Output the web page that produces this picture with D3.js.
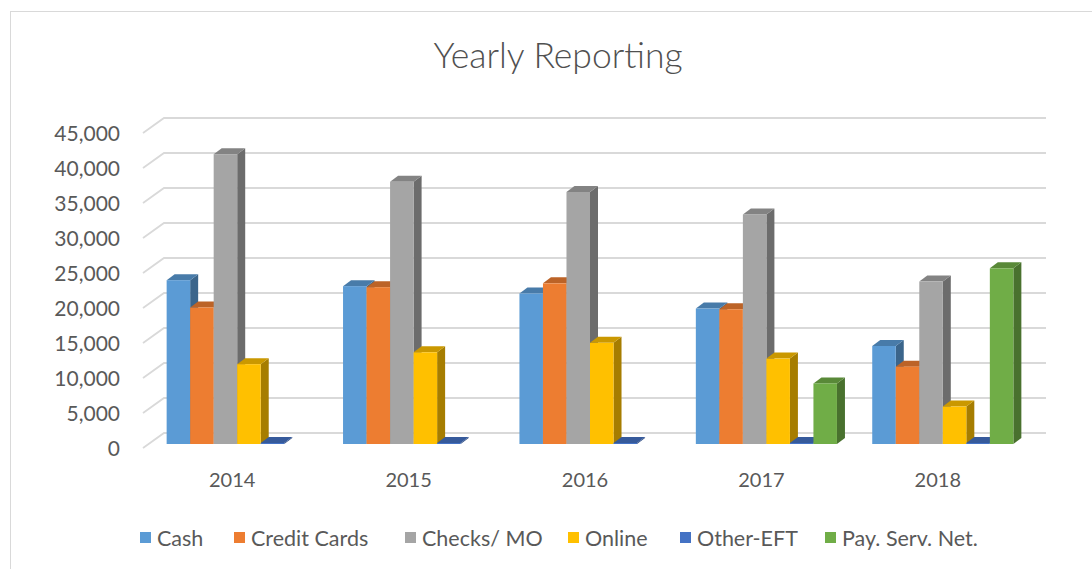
<!DOCTYPE html>
<html>
<head>
<meta charset="utf-8">
<script src="https://cdn.jsdelivr.net/npm/d3@7"></script>
<style>
  html, body { margin: 0; padding: 0; background: #fff; }
  svg { display: block; }
  text { font-family: Lato, "Open Sans", sans-serif; fill: #595959; }
</style>
</head>
<body>
<svg id="chart" width="1092" height="569"></svg>
<script>
// Yearly payment volumes by channel
const years = ["2014", "2015", "2016", "2017", "2018"];
const seriesNames = ["Cash", "Credit Cards", "Checks/ MO", "Online", "Other-EFT", "Pay. Serv. Net."];
const seriesColors = ["#5B9BD5", "#ED7D31", "#A5A5A5", "#FFC000", "#4472C4", "#70AD47"];

const cash        = [23400, 22550, 21500, 19350, 14000];
const creditCards = [19500, 22400, 22950, 19250, 11050];
const checksMO    = [41400, 37450, 36000, 32800, 23200];
const online      = [11400, 13100, 14450, 12200, 5350];
const otherEFT    = [0, 0, 0, 0, 0];
const payServNet  = [null, null, null, 8650, 25100];

const yTicks = [0, 5000, 10000, 15000, 20000, 25000, 30000, 35000, 40000, 45000];

const seriesValues = [cash, creditCards, checksMO, online, otherEFT, payServNet];

const svg = d3.select("#chart");

// chart area frame
svg.append("rect")
  .attr("x", 10.5).attr("y", 11.5)
  .attr("width", 1100).attr("height", 600)
  .attr("fill", "#fff")
  .attr("stroke", "#D9D9D9").attr("stroke-width", 1);

// title
svg.append("text")
  .attr("x", 558).attr("y", 68)
  .attr("text-anchor", "middle")
  .attr("font-size", 35.5)
  .attr("font-weight", 300)
  .style("fill", "#505050")
  .text("Yearly Reporting");

// scales
const x0 = d3.scaleBand().domain(years).range([149, 1031]).paddingInner(0.2).paddingOuter(0.1);
const x1 = d3.scaleBand().domain(seriesNames).range([0, x0.bandwidth()]);
const y = d3.scaleLinear().domain([0, 45000]).range([444, 129]);       // bar front plane
const yWall = d3.scaleLinear().domain([0, 45000]).range([448, 133]);   // front edge of side wall

// 3D offsets
const wallDX = 21, wallDY = -15;   // side wall depth
const barDX = 8, barDY = -6;       // bar depth
const wallRight = 1046;

// gridlines: side wall slant + back wall horizontal
const grid = svg.append("g").attr("fill", "none").attr("stroke", "#D9D9D9").attr("stroke-width", 1.8);
yTicks.forEach(v => {
  const yf = yWall(v);
  grid.append("path")
    .attr("d", `M143,${yf} L${143 + wallDX},${yf + wallDY} L${wallRight},${yf + wallDY}`);
});

// y axis labels
svg.append("g").selectAll("text")
  .data(yTicks)
  .join("text")
  .attr("x", 120)
  .attr("y", d => yWall(d))
  .attr("dy", "0.36em")
  .attr("text-anchor", "end")
  .attr("font-size", 21)
  .text(d => d3.format(",")(d));

// bars
const bars = svg.append("g");
years.forEach((yr, i) => {
  seriesNames.forEach((name, s) => {
    const v = seriesValues[s][i];
    if (v === null || v === undefined) return;
    const col = d3.color(seriesColors[s]);
    const top = col.darker(0.65).formatHex();
    const side = col.darker(1.2).formatHex();
    const xl = x0(yr) + x1(name);
    const w = x1.bandwidth();
    const yb = y(0), yt = y(v) - (v === 0 ? 1 : 0);
    // right side face
    bars.append("path")
      .attr("d", `M${xl + w},${yt} L${xl + w + barDX},${yt + barDY} L${xl + w + barDX},${yb + barDY} L${xl + w},${yb} Z`)
      .attr("fill", side);
    // top face
    bars.append("path")
      .attr("d", `M${xl},${yt} L${xl + barDX},${yt + barDY} L${xl + w + barDX},${yt + barDY} L${xl + w},${yt} Z`)
      .attr("fill", top);
    // front face
    bars.append("rect")
      .attr("x", xl).attr("y", yt)
      .attr("width", w).attr("height", yb - yt)
      .attr("fill", seriesColors[s]);
  });
});

// category labels
svg.append("g").selectAll("text")
  .data(years)
  .join("text")
  .attr("x", d => x0(d) + x0.bandwidth() / 2 - 5)
  .attr("y", 487)
  .attr("text-anchor", "middle")
  .attr("font-size", 20)
  .text(d => d);

// legend
const legendX = [140, 234, 405, 568, 680, 825];
const legend = svg.append("g");
seriesNames.forEach((name, s) => {
  legend.append("rect")
    .attr("x", legendX[s]).attr("y", 532)
    .attr("width", 11).attr("height", 11)
    .attr("fill", seriesColors[s]);
  legend.append("text")
    .attr("x", legendX[s] + 17).attr("y", 538)
    .attr("dy", "0.36em")
    .attr("font-size", 21.5)
    .text(name);
});
</script>
</body>
</html>
